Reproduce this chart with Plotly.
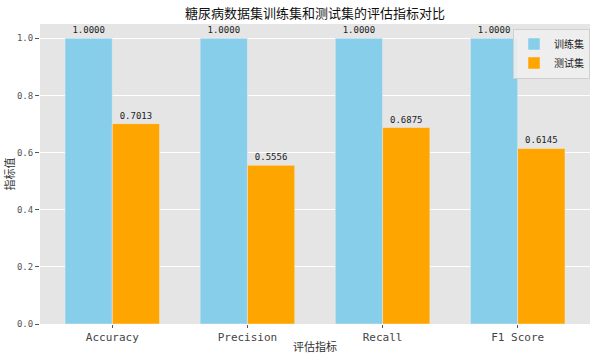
import plotly.graph_objects as go

metrics = ["Accuracy", "Precision", "Recall", "F1 Score"]
train_vals = [1.0, 1.0, 1.0, 1.0]
test_vals = [0.7013, 0.5556, 0.6875, 0.6145]
yticks = [0.0, 0.2, 0.4, 0.6, 0.8, 1.0]

cjk = "Noto Sans CJK SC"

fig = go.Figure()
fig.add_trace(go.Bar(
    x=metrics, y=train_vals, name="训练集",
    marker=dict(color="#87CEEB", line=dict(color="#EEEEEE", width=0.5)),
    texttemplate="%{y:.4f}", textposition="outside",
    textfont=dict(family="DejaVu Sans Mono", size=9, color="#222222"),
    cliponaxis=False,
))
fig.add_trace(go.Bar(
    x=metrics, y=test_vals, name="测试集",
    marker=dict(color="#FFA500", line=dict(color="#EEEEEE", width=0.5)),
    texttemplate="%{y:.4f}", textposition="outside",
    textfont=dict(family="DejaVu Sans Mono", size=9, color="#222222"),
    cliponaxis=False,
))

fig.update_layout(
    width=600, height=360,
    margin=dict(l=40, r=10, t=24, b=36),
    paper_bgcolor="white", plot_bgcolor="#E5E5E5",
    barmode="group", bargap=0.3, bargroupgap=0,
    title=dict(text="糖尿病数据集训练集和测试集的评估指标对比", x=0.525, xanchor="center",
               y=0.963, yanchor="middle", font=dict(family=cjk, size=13, color="#111111")),
    font=dict(family=cjk, size=10, color="#555555"),
    legend=dict(x=1.0, y=0.985, xanchor="right", yanchor="top",
                bgcolor="rgba(238,238,238,0.9)", bordercolor="#D0D0D0", borderwidth=1,
                font=dict(family=cjk, size=10, color="#222222"), itemwidth=30,
                tracegroupgap=0),
    showlegend=True,
)
fig.update_xaxes(
    range=[-0.535, 3.535], showgrid=False, zeroline=False, automargin=False,
    ticks="outside", ticklen=3, tickcolor="#555555",
    tickfont=dict(family="DejaVu Sans Mono, " + cjk, size=11, color="#444444"),
    title=dict(text="评估指标", font=dict(family=cjk, size=11, color="#333333"), standoff=0),
)
fig.update_yaxes(
    range=[0, 1.05], tickvals=yticks, tickformat=".1f", automargin=False,
    showgrid=True, gridcolor="white", gridwidth=1, zeroline=False,
    ticks="outside", ticklen=4, tickcolor="#555555",
    tickfont=dict(family="DejaVu Sans Mono, " + cjk, size=9, color="#555555"),
    title=dict(text="指标值", font=dict(family=cjk, size=11, color="#333333"), standoff=0),
)
fig.write_html("out.html", config={"displayModeBar": False},
               post_script="document.body.style.margin='0';")
